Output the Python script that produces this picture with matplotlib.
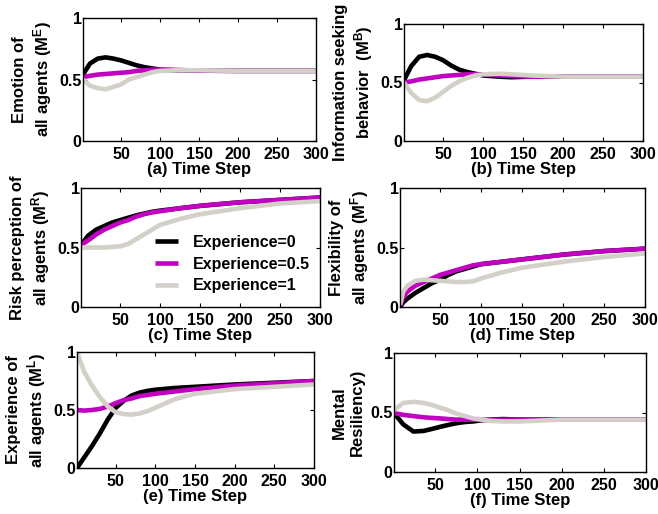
import matplotlib
matplotlib.use('Agg')
import matplotlib.pyplot as plt

plt.rcParams['font.family'] = ['Liberation Sans', 'DejaVu Sans']
plt.rcParams['font.weight'] = 'bold'
plt.rcParams['mathtext.fontset'] = 'custom'
plt.rcParams['mathtext.bf'] = 'Liberation Sans:bold'
plt.rcParams['mathtext.rm'] = 'Liberation Sans:bold'
plt.rcParams['mathtext.default'] = 'bf'

labels = ['Experience=0', 'Experience=0.5', 'Experience=1']
colors = ['black', '#C100C1', '#D3D0C8']

# (a) emotion
t_a = [1, 10, 20, 30, 40, 50, 60, 70, 80, 90, 100, 120, 150, 200, 250, 300]
emo_0 = [0.54, 0.63, 0.67, 0.68, 0.67, 0.655, 0.635, 0.615, 0.60, 0.59, 0.58, 0.575, 0.572, 0.57, 0.57, 0.57]
emo_05 = [0.52, 0.53, 0.54, 0.545, 0.55, 0.555, 0.56, 0.57, 0.575, 0.58, 0.58, 0.578, 0.572, 0.57, 0.57, 0.57]
emo_1 = [0.50, 0.45, 0.43, 0.42, 0.44, 0.46, 0.50, 0.52, 0.54, 0.56, 0.57, 0.575, 0.575, 0.57, 0.57, 0.57]

# (b) information seeking
t_b = [1, 10, 20, 30, 40, 50, 60, 70, 80, 90, 100, 120, 135, 160, 200, 250, 300]
info_0 = [0.52, 0.64, 0.72, 0.735, 0.72, 0.69, 0.645, 0.61, 0.59, 0.575, 0.56, 0.55, 0.545, 0.55, 0.55, 0.55, 0.55]
info_05 = [0.50, 0.51, 0.525, 0.535, 0.545, 0.555, 0.56, 0.565, 0.57, 0.57, 0.57, 0.56, 0.555, 0.55, 0.55, 0.55, 0.55]
info_1 = [0.50, 0.41, 0.35, 0.34, 0.37, 0.42, 0.47, 0.51, 0.54, 0.56, 0.57, 0.575, 0.57, 0.56, 0.55, 0.55, 0.55]

# (c) risk perception
t_c = [1, 10, 20, 30, 40, 50, 60, 70, 80, 90, 100, 125, 150, 200, 250, 300]
risk_0 = [0.52, 0.60, 0.65, 0.68, 0.71, 0.73, 0.75, 0.77, 0.785, 0.80, 0.81, 0.83, 0.85, 0.88, 0.90, 0.92]
risk_05 = [0.52, 0.56, 0.61, 0.65, 0.68, 0.71, 0.73, 0.76, 0.78, 0.795, 0.805, 0.83, 0.85, 0.88, 0.90, 0.92]
risk_1 = [0.50, 0.50, 0.50, 0.50, 0.505, 0.51, 0.53, 0.57, 0.61, 0.65, 0.69, 0.74, 0.78, 0.83, 0.87, 0.89]

# (d) flexibility
t_d = [1, 5, 10, 20, 30, 40, 50, 60, 70, 80, 90, 100, 125, 150, 200, 250, 300]
flex_0 = [0.0, 0.04, 0.07, 0.12, 0.16, 0.20, 0.23, 0.27, 0.30, 0.32, 0.34, 0.36, 0.38, 0.40, 0.44, 0.47, 0.49]
flex_05 = [0.01, 0.08, 0.13, 0.18, 0.21, 0.24, 0.27, 0.29, 0.31, 0.33, 0.35, 0.36, 0.38, 0.40, 0.44, 0.47, 0.49]
flex_1 = [0.02, 0.13, 0.18, 0.22, 0.23, 0.225, 0.22, 0.215, 0.21, 0.21, 0.215, 0.24, 0.29, 0.33, 0.38, 0.42, 0.45]

# (e) experience
t_e = [1, 10, 20, 30, 40, 50, 60, 70, 80, 90, 100, 125, 150, 200, 250, 300]
exp_0 = [0.0, 0.09, 0.19, 0.30, 0.42, 0.52, 0.58, 0.625, 0.65, 0.665, 0.675, 0.69, 0.70, 0.72, 0.735, 0.75]
exp_05 = [0.50, 0.495, 0.50, 0.51, 0.53, 0.56, 0.585, 0.60, 0.62, 0.63, 0.64, 0.66, 0.68, 0.71, 0.73, 0.75]
exp_1 = [1.0, 0.83, 0.71, 0.61, 0.53, 0.48, 0.465, 0.46, 0.47, 0.49, 0.52, 0.595, 0.64, 0.68, 0.70, 0.72]

# (f) mental resiliency
t_f = [1, 12, 24, 36, 45, 56, 65, 75, 85, 95, 105, 115, 130, 150, 200, 250, 300]
res_0 = [0.495, 0.40, 0.34, 0.345, 0.36, 0.38, 0.395, 0.41, 0.42, 0.425, 0.435, 0.44, 0.445, 0.44, 0.44, 0.44, 0.44]
res_05 = [0.495, 0.48, 0.47, 0.46, 0.455, 0.45, 0.445, 0.44, 0.44, 0.44, 0.438, 0.438, 0.44, 0.44, 0.44, 0.44, 0.44]
res_1 = [0.52, 0.58, 0.59, 0.58, 0.565, 0.54, 0.52, 0.49, 0.47, 0.45, 0.44, 0.43, 0.425, 0.425, 0.44, 0.44, 0.44]

panels = [
    ('a', t_a, [emo_0, emo_05, emo_1], 'Emotion of\nall agents (M$^E$)', (83, 316, 18, 141)),
    ('b', t_b, [info_0, info_05, info_1], 'Information seeking\nbehavior  (M$^B$)', (404, 643, 24, 141)),
    ('c', t_c, [risk_0, risk_05, risk_1], 'Risk perception of\nall agents (M$^R$)', (81, 320, 188, 307)),
    ('d', t_d, [flex_0, flex_05, flex_1], 'Flexibility of\nall agents (M$^F$)', (400, 645, 188, 307)),
    ('e', t_e, [exp_0, exp_05, exp_1], 'Experience of\nall agents (M$^L$)', (77, 314, 352, 468)),
    ('f', t_f, [res_0, res_05, res_1], 'Mental\nResiliency)', (394, 646, 353, 472)),
]

W, H = 658, 514
fig = plt.figure(figsize=(W / 100, H / 100), dpi=100)

axes = {}
for key, t, series, ylab, (l, r, top, bot) in panels:
    ax = fig.add_axes([l / W, 1 - bot / H, (r - l) / W, (bot - top) / H])
    for ys, c, lab in zip(series, colors, labels):
        ax.plot(t, ys, color=c, lw=3.3, label=lab, solid_capstyle='butt')
    ax.set_xlim(1, 300)
    ax.set_ylim(0, 1)
    ax.set_xticks([50, 100, 150, 200, 250, 300])
    ax.set_yticks([0, 0.5, 1])
    ax.set_yticklabels(['0', '0.5', '1'])
    ax.tick_params(direction='in', top=True, right=True, length=3, width=0.8,
                   labelsize=11.5)
    ax.tick_params(axis='y', pad=1)
    ax.tick_params(axis='x', pad=4)
    for s in ax.spines.values():
        s.set_linewidth(1.0)
    ax.set_xlabel(f'({key}) Time Step', fontsize=12, fontweight='bold', labelpad=0)
    ax.set_ylabel(ylab, fontsize=12, fontweight='bold', labelpad=4, linespacing=1.2)
    axes[key] = ax

axes['c'].legend(loc='upper left', bbox_to_anchor=(155 / W, 1 - 235 / H),
                 bbox_transform=fig.transFigure, frameon=False,
                 handlelength=1.45, handletextpad=0.9, labelspacing=0.42,
                 borderpad=0, borderaxespad=0, prop={'weight': 'bold', 'size': 11.5})

fig.savefig('out.png', dpi=100)
